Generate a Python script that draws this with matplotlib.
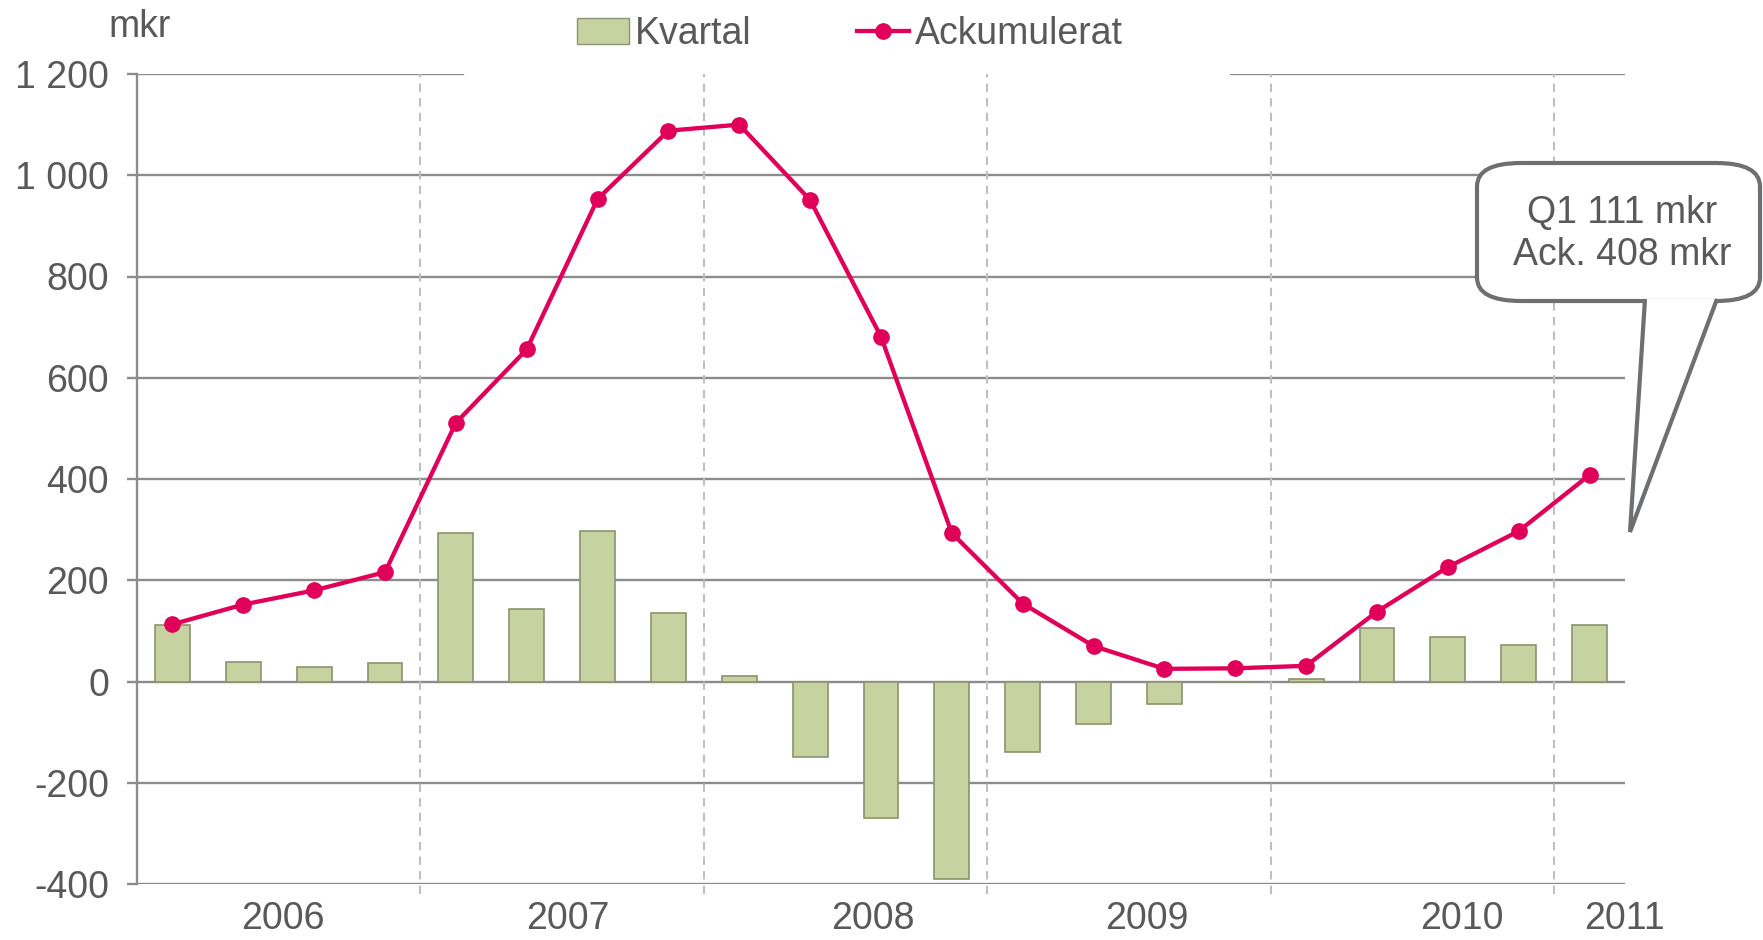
import matplotlib.pyplot as plt
from matplotlib.lines import Line2D
from matplotlib.patches import Patch, FancyBboxPatch, Polygon

plt.rcParams['font.family'] = ['Liberation Sans', 'DejaVu Sans']

# data, 2006 Q1 .. 2011 Q1
kvartal = [111, 38, 28, 36, 294, 143, 297, 136, 10, -150, -270, -390,
           -140, -84, -45, 0, 5, 105, 87, 72, 111]
ackumulerat = [113, 152, 180, 216, 511, 656, 953, 1088, 1100, 951, 681, 293,
               154, 70, 25, 26, 31, 138, 226, 297, 408]
years = ['2006', '2007', '2008', '2009', '2010', '2011']
year_pos = [1.56, 5.58, 9.88, 13.75, 18.2, 20.5]
yticks = [-400, -200, 0, 200, 400, 600, 800, 1000, 1200]
ytick_labels = ['-400', '-200', '0', '200', '400', '600', '800', '1 000', '1 200']

txt = '#595959'
grid = '#8c8c8c'
bar_face = '#c6d3a1'
bar_edge = '#8e9270'
line_col = '#e0005a'
fs = 27

W, H = 1763, 940
fig = plt.figure(figsize=(W / 100, H / 100), dpi=100)
ax = fig.add_axes([137 / W, 1 - 884 / H, (1625 - 137) / W, (884 - 74) / H])

x = list(range(len(kvartal)))

# gridlines
for y in yticks[:-1]:
    ax.axhline(y, color=grid, lw=1.7, zorder=1)
ax.axhline(1200, xmax=(463 - 137) / (1625 - 137), color=grid, lw=1.7, zorder=1)
ax.axhline(1200, xmin=(1231 - 137) / (1625 - 137), color=grid, lw=1.7, zorder=1)
for xv in [3.5, 7.5, 11.5, 15.5, 19.5]:
    ax.axvline(xv, ymin=-0.012, ymax=1, color='#bfbfbf', lw=1.5, ls=(0, (4, 3)),
               clip_on=False, zorder=1)

ax.bar(x, kvartal, width=0.49, color=bar_face, edgecolor=bar_edge, linewidth=1.2, zorder=2)
ax.plot(x, ackumulerat, color=line_col, lw=3.1, marker='o', markersize=11, zorder=3)

ax.set_xlim(-0.5, 20.5)
ax.set_ylim(-400, 1200)
ax.set_yticks(yticks)
ax.set_yticklabels(ytick_labels)
ax.set_xticks(year_pos)
ax.set_xticklabels(years)
ax.tick_params(axis='y', colors=grid, labelcolor=txt, labelsize=fs, length=7, width=1.7, pad=13)
ax.tick_params(axis='x', length=0, labelcolor=txt, labelsize=fs, pad=12)
for s in ['top', 'right', 'bottom']:
    ax.spines[s].set_visible(False)
ax.spines['left'].set_color(grid)
ax.spines['left'].set_linewidth(1.7)

fig.text(108 / W, 1 - 27 / H, 'mkr', color=txt, fontsize=fs, va='center', ha='left')

handles = [Patch(facecolor=bar_face, edgecolor=bar_edge, label='Kvartal'),
           Line2D([], [], color=line_col, lw=3.1, marker='o', markersize=11, label='Ackumulerat')]
fig.legend(handles=handles, loc='center', bbox_to_anchor=(0.482, 1 - 34 / H), ncol=2,
           frameon=False, fontsize=fs, handlelength=1.4, handletextpad=0.15,
           columnspacing=2.8, labelcolor=txt)

# callout
tf = fig.transFigure
box = FancyBboxPatch((1477 / W, 1 - 301 / H), (1760 - 1477) / W, (301 - 163) / H,
                     boxstyle='round,pad=0,rounding_size=0.025', transform=tf,
                     facecolor='white', edgecolor='#6d6f70', lw=3, zorder=5)
fig.patches.append(box)
tail = [(1645 / W, 1 - 299 / H), (1630 / W, 1 - 532 / H), (1717 / W, 1 - 299 / H)]
fig.patches.append(Polygon(tail, closed=False, transform=tf, facecolor='white',
                           edgecolor='#6d6f70', lw=3, zorder=6, joinstyle='miter'))
fig.text(1622 / W, 1 - 234 / H, 'Q1 111 mkr\nAck. 408 mkr', color=txt, fontsize=fs,
         ha='center', va='center', linespacing=1.2, zorder=7)

fig.savefig('out.png', dpi=100)
